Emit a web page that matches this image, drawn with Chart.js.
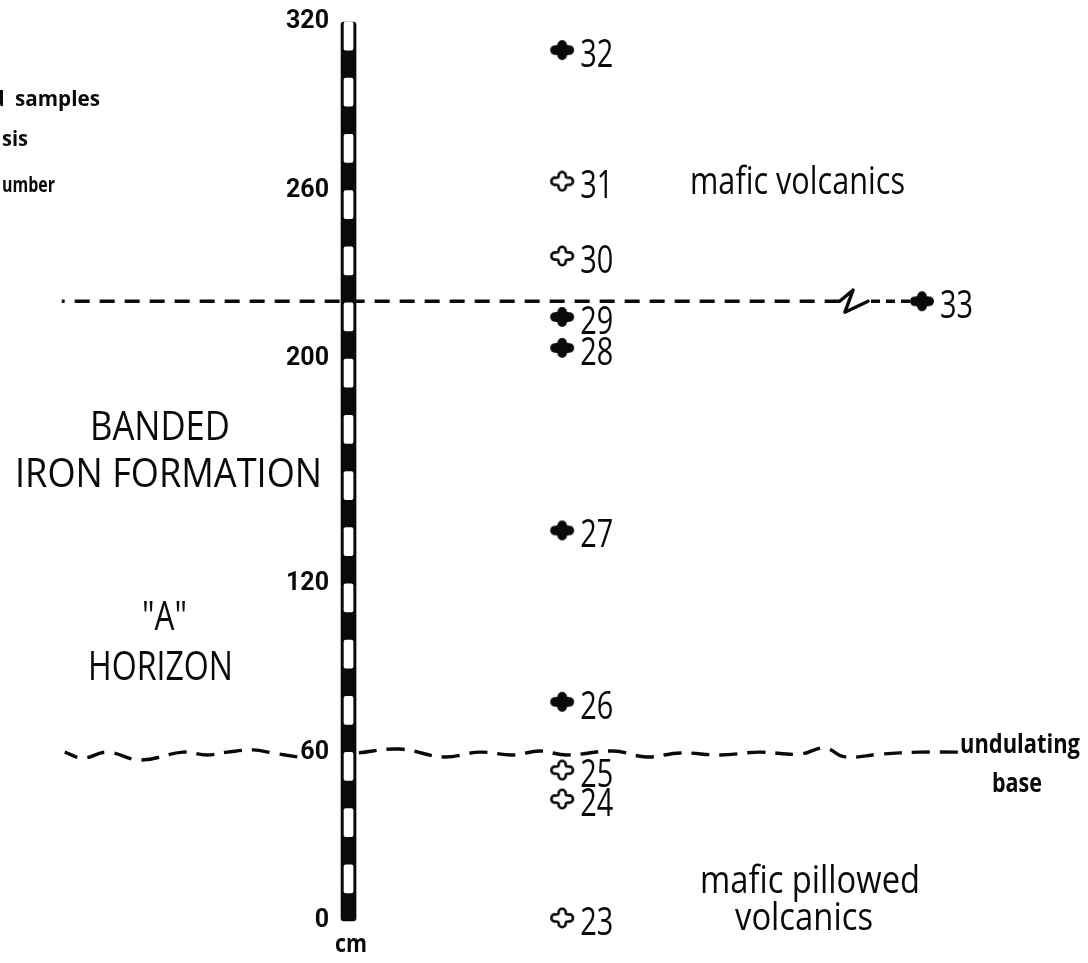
<!DOCTYPE html>
<html><head><meta charset="utf-8">
<script src="https://cdn.jsdelivr.net/npm/chart.js@4/dist/chart.umd.min.js"></script>
<style>html,body{margin:0;padding:0;background:#fff}canvas{display:block}</style>
</head><body>
<canvas id="c" width="1088" height="963"></canvas>
<script>
// ---------- data ----------
const depthTicks = [0, 60, 120, 200, 260, 320];            // cm
const filledSamples = ['32', '29', '28', '27', '26', '33'];
const filledDepth   = [310, 215, 204, 139, 78, 220.6];
const filledPos     = [29.7, 29.7, 29.7, 29.7, 29.7, 77.8];
const openSamples = ['31', '30', '25', '24', '23'];
const openDepth   = [263.3, 236.7, 53.7, 43.4, 1.1];
const openPos     = [29.7, 29.7, 29.7, 29.7, 29.7];
const scaleBarPos = 1.14;
const scaleBarRange = [0, 320];
const whiteBands = [[10,20],[30,40],[50,60],[70,80],[90,100],[110,120],[130,140],[150,160],
                    [170,180],[190,200],[210,220],[230,240],[250,260],[270,280],[290,300],[310,320]];
const contactDepth = 220.6;
const contactLeftPos  = [66.8, -37.2];
const contactRightPos = [76.2, 70.6];
const breakPos   = [66.8, 68.6, 67.5, 70.6];
const breakDepth = [220.6, 224.6, 216.7, 220.6];
const baseRightPos   = [82.6, 77.5, 72.2, 67.5, 64.8, 61.5, 56.1, 50.8, 45.5, 41.0, 36.5, 30.3, 26.7, 23.1, 18.7, 13.8, 8.0, 2.3];
const baseRightDepth = [60.1, 60.1, 59.4, 58.4, 61.6, 59.4, 60.1, 59.1, 59.8, 58.4, 60.5, 59.1, 60.5, 59.1, 60.1, 58.4, 61.2, 59.8];
const baseLeftPos   = [-5.7, -9.0, -11.6, -15.1, -17.8, -21.0, -26.7, -31.1, -34.4, -36.8];
const baseLeftDepth = [58.4, 59.8, 60.9, 60.1, 59.1, 60.1, 57.3, 60.1, 58.0, 60.1];

// ---------- helpers ----------
const pts = (xs, ys) => xs.map((x, i) => ({x, y: ys[i]}));
const INK = '#0a0a0a';

function makeStar(filled) {
  const c = document.createElement('canvas');
  c.width = 26; c.height = 22;
  const g = c.getContext('2d');
  const cx = 13, cy = 11;
  const rx = filled ? 12 : 10.8, ry = filled ? 10 : 9.2, a = filled ? 4.8 : 3.6;
  const k = filled ? a * 1.05 : a * 0.85;
  g.beginPath();
  g.moveTo(cx - a, cy - ry + a);
  g.arc(cx, cy - ry + a, a, Math.PI, 0);
  g.quadraticCurveTo(cx + k, cy - k, cx + rx - a, cy - a);
  g.arc(cx + rx - a, cy, a, -Math.PI / 2, Math.PI / 2);
  g.quadraticCurveTo(cx + k, cy + k, cx + a, cy + ry - a);
  g.arc(cx, cy + ry - a, a, 0, Math.PI);
  g.quadraticCurveTo(cx - k, cy + k, cx - rx + a, cy + a);
  g.arc(cx - rx + a, cy, a, Math.PI / 2, Math.PI * 1.5);
  g.quadraticCurveTo(cx - k, cy - k, cx - a, cy - ry + a);
  g.closePath();
  if (filled) { g.fillStyle = INK; g.fill(); }
  else { g.fillStyle = '#fff'; g.fill(); g.lineWidth = 2.6; g.strokeStyle = INK; g.stroke(); }
  return c;
}

function fitText(ctx, txt, x, y, font, w, align, measureTxt) {
  ctx.save();
  ctx.font = font;
  ctx.fillStyle = INK;
  ctx.textBaseline = 'alphabetic';
  const m = ctx.measureText(measureTxt || txt).width;
  const s = w / m;
  ctx.translate(x, y);
  ctx.scale(s, 1);
  ctx.textAlign = align || 'left';
  ctx.fillText(txt, 0, 0);
  ctx.restore();
}

const notes = [
  {t: 'mafic volcanics', x: 690, y: 194, w: 215, f: '38px "Open Sans"'},
  {t: 'mafic pillowed',  x: 700, y: 893, w: 220, f: '38px "Open Sans"'},
  {t: 'volcanics',       x: 735, y: 930, w: 138, f: '38px "Open Sans"'},
  {t: 'BANDED',          x: 90,  y: 440, w: 140, f: '40px "Open Sans"'},
  {t: 'IRON FORMATION',  x: 15,  y: 487, w: 307, f: '40px "Open Sans"'},
  {t: '"A"',             x: 142, y: 630, w: 45,  f: '40px "Open Sans"'},
  {t: 'HORIZON',         x: 88,  y: 680, w: 145, f: '40px "Open Sans"'},
  {t: 'undulating',      x: 960, y: 753, w: 120, f: 'bold 27px "Open Sans"'},
  {t: 'base',            x: 992, y: 792, w: 50,  f: 'bold 27px "Open Sans"'},
  {t: 'sis',             x: 2,   y: 146, w: 26,  f: 'bold 21px "Open Sans"'},
  {t: 'umber',           x: 2,   y: 192, w: 53,  f: 'bold 21px "Open Sans"'},
  {t: 'cm',              x: 335, y: 952, w: 32,  f: 'bold 25px "Open Sans"'}
];

const textPlugin = {
  id: 'texts',
  afterDatasetsDraw(chart) {
    const ctx = chart.ctx;
    ctx.save();
    ctx.font = '38px "Open Sans"';
    const sNum = 33 / ctx.measureText('32').width;
    ctx.restore();
    const drawNums = (dsIndex, labels) => {
      const meta = chart.getDatasetMeta(dsIndex);
      meta.data.forEach((el, i) => {
        ctx.save();
        ctx.font = '38px "Open Sans"';
        ctx.fillStyle = INK;
        ctx.textBaseline = 'alphabetic';
        ctx.translate(el.x + 18, el.y + 17);
        ctx.scale(sNum, 1);
        ctx.fillText(labels[i], 0, 0);
        ctx.restore();
      });
    };
    drawNums(0, filledSamples);
    drawNums(1, openSamples);
    notes.forEach(n => fitText(ctx, n.t, n.x, n.y, n.f, n.w, 'left'));
    fitText(ctx, 'd\u2002samples', 100, 106, 'bold 21px "Open Sans"', 85, 'right', 'samples');
  }
};

function build() {
  const starFilled = makeStar(true);
  const starOpen = makeStar(false);
  const lineCommon = {type: 'line', pointRadius: 0, fill: false, clip: false, borderColor: INK,
                      borderWidth: 3.4, order: 5};
  new Chart(document.getElementById('c'), {
    type: 'scatter',
    data: {
      datasets: [
        {type: 'scatter', data: pts(filledPos, filledDepth), pointStyle: starFilled, order: 0, clip: false},
        {type: 'scatter', data: pts(openPos, openDepth), pointStyle: starOpen, order: 0, clip: false},
        {type: 'bar', data: whiteBands.map(b => ({x: scaleBarPos, y: b})), backgroundColor: '#fff',
         barThickness: 9, grouped: false, borderRadius: 2, borderSkipped: false, order: 1, clip: false},
        {type: 'bar', data: [{x: scaleBarPos, y: scaleBarRange}], backgroundColor: INK,
         barThickness: 15, grouped: false, borderRadius: 3, borderSkipped: false, order: 2, clip: false},
        Object.assign({}, lineCommon, {data: pts(contactLeftPos, contactLeftPos.map(() => contactDepth)), borderDash: [15, 10]}),
        Object.assign({}, lineCommon, {data: pts(contactRightPos, contactRightPos.map(() => contactDepth)), borderDash: [9, 6]}),
        Object.assign({}, lineCommon, {data: pts(breakPos, breakDepth), tension: 0, borderCapStyle: 'round', borderJoinStyle: 'round'}),
        Object.assign({}, lineCommon, {data: pts(baseRightPos, baseRightDepth), borderDash: [18, 10], tension: 0.4}),
        Object.assign({}, lineCommon, {data: pts(baseLeftPos, baseLeftDepth), borderDash: [18, 10], tension: 0.4})
      ]
    },
    options: {
      responsive: false,
      animation: false,
      events: [],
      layout: {padding: {top: 22, bottom: 42, left: 0, right: 0}, autoPadding: false},
      plugins: {legend: {display: false}, tooltip: {enabled: false}},
      scales: {
        x: {type: 'linear', min: 0, max: 100, display: false, offset: false, grid: {offset: false}},
        y: {
          type: 'linear', min: 0, max: 320, position: 'left', offset: false,
          afterFit(s) { s.width = 340; },
          afterBuildTicks(s) { s.ticks = depthTicks.map(v => ({value: v})); },
          grid: {display: false},
          border: {display: false},
          ticks: {padding: 3, color: INK, autoSkip: false,
                  font: {family: 'Roboto', weight: 'bold', size: 25},
                  callback: v => String(v)}
        }
      }
    },
    plugins: [textPlugin]
  });
}

(document.fonts && document.fonts.load ?
  Promise.all([document.fonts.load('38px "Open Sans"'), document.fonts.load('bold 25px Roboto'),
               document.fonts.load('bold 25px "Open Sans"')]).catch(() => {}) : Promise.resolve())
  .then(build);
</script>
</body></html>
